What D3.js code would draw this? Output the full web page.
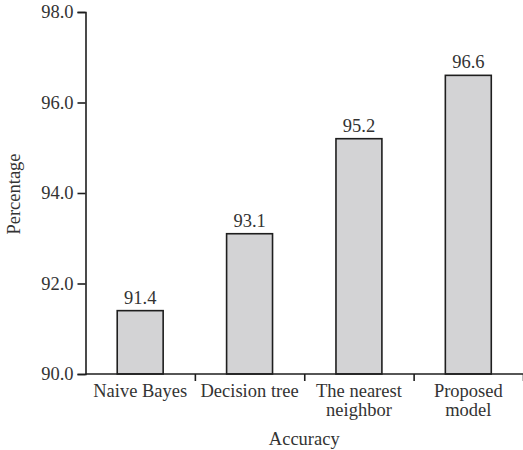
<!DOCTYPE html>
<html>
<head>
<meta charset="utf-8">
<script src="https://d3js.org/d3.v7.min.js"></script>
<style>
  body { margin: 0; background: #fff; }
  text { font-family: "Liberation Serif", "Times New Roman", serif; fill: #333; }
</style>
</head>
<body>
<svg width="523" height="450"></svg>
<script>
// data
var methods = [["Naive Bayes"], ["Decision tree"], ["The nearest", "neighbor"], ["Proposed", "model"]];
var accuracy = [91.4, 93.1, 95.2, 96.6];
var yTicks = [90, 92, 94, 96, 98];

var svg = d3.select("svg");
var padL = 85.5, padR = 523, padT = 12, padB = 374;
var fs = "18.5px";

var x = d3.scaleBand().domain(d3.range(methods.length)).range([padL, padR]).padding(0);
var y = d3.scaleLinear().domain([90, 98]).range([padB, padT]);
var barW = x.bandwidth() * 0.42;

// bars
svg.selectAll("rect.bar").data(accuracy).enter().append("rect")
    .attr("class", "bar")
    .attr("x", function(d, i) { return x(i) + x.bandwidth() / 2 - barW / 2; })
    .attr("y", function(d) { return y(d); })
    .attr("width", barW)
    .attr("height", function(d) { return padB - y(d); })
    .attr("fill", "#d3d3d5")
    .attr("stroke", "#1e1e1e")
    .attr("stroke-width", 1.6);

// value labels
svg.selectAll("text.val").data(accuracy).enter().append("text")
    .attr("class", "val")
    .attr("x", function(d, i) { return x(i) + x.bandwidth() / 2; })
    .attr("y", function(d) { return y(d) - 7; })
    .attr("text-anchor", "middle")
    .style("font-size", fs)
    .text(function(d) { return d.toFixed(1); });

// y axis
var yaxis = d3.axisLeft(y).tickValues(yTicks).tickSize(8).tickPadding(4)
    .tickFormat(d3.format(".1f"));
var gy = svg.append("g").attr("transform", "translate(" + padL + ",0)").call(yaxis);
gy.select(".domain").attr("stroke", "#1e1e1e").attr("stroke-width", 1.6);
gy.selectAll(".tick line").attr("stroke", "#1e1e1e").attr("stroke-width", 1.6);
gy.selectAll(".tick text").style("font-size", fs).style("font-family", "Liberation Serif").attr("fill", "#333");

// x axis: ticks on category boundaries
var xaxis = d3.axisBottom(d3.scaleLinear().domain([0, methods.length]).range([padL, padR]))
    .tickValues(d3.range(1, methods.length + 1)).tickSize(7).tickFormat("");
var gx = svg.append("g").attr("transform", "translate(0," + padB + ")").call(xaxis);
gx.select(".domain").attr("d", "M" + padL + ",0H" + padR).attr("stroke", "#1e1e1e").attr("stroke-width", 1.6);
gx.selectAll(".tick line").attr("stroke", "#1e1e1e").attr("stroke-width", 1.6);

// category labels
methods.forEach(function(lines, i) {
    var t = svg.append("text")
        .attr("x", x(i) + x.bandwidth() / 2)
        .attr("y", 397)
        .attr("text-anchor", "middle")
        .style("font-size", fs);
    lines.forEach(function(s, j) {
        t.append("tspan").attr("x", x(i) + x.bandwidth() / 2).attr("dy", j == 0 ? 0 : 19).text(s);
    });
});

// axis titles
svg.append("text").text("Accuracy")
    .attr("x", (padL + padR) / 2)
    .attr("y", 445)
    .attr("text-anchor", "middle")
    .style("font-size", fs);

svg.append("text").text("Percentage")
    .attr("transform", "translate(20,194) rotate(-90)")
    .attr("text-anchor", "middle")
    .style("font-size", fs);
</script>
</body>
</html>
